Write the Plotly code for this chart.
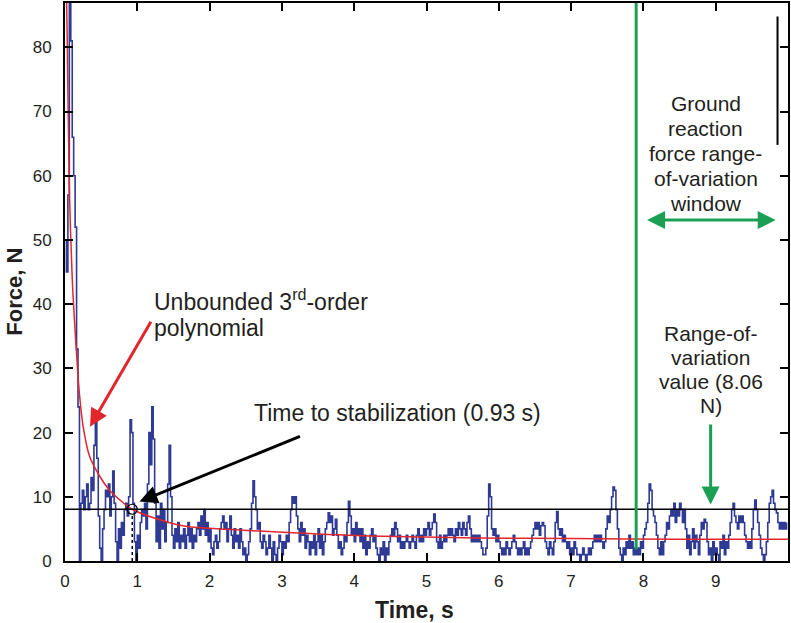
import numpy as np
import plotly.graph_objects as go

# ─── COLOURS ──────────────────────────────────────────────────
BLUE = "#2e3a94"
RED = "#e3262c"
GREEN = "#1a9f55"
INK = "#231f20"
FONT = "Liberation Sans, Arial, sans-serif"

# ─── DATA ─────────────────────────────────────────────────────
SAMPLE_DT = 0.02  # s between force samples

force = [
    50, 45, 57, 95, 81, 66, 60, 52, 33, 24, 0, 9, 11, 8, 10, 12, 8, 9, 13, 11, 18, 23, 16, 7, 2,
    0, 5, 8, 11, 10, 12, 7, 10, 14, 9, 3, 0, 5, 2, 6, 4, 8, 9, 7, 10, 22, 20, 9, 3, 0,
    4, 2, 6, 8, 7, 9, 5, 12, 20, 15, 24, 19, 9, 3, 7, 2, 9, 5, 8, 3, 6, 12, 18, 10, 4,
    2, 5, 3, 6, 2, 4, 3, 5, 2, 4, 6, 3, 5, 2, 4, 3, 5, 6, 4, 7, 5, 8, 4, 6, 3,
    5, 2, 1, 3, 4, 2, 3, 5, 6, 7, 5, 6, 3, 5, 7, 4, 2, 5, 3, 4, 2, 5, 3, 1, 2,
    0, 1, 3, 5, 9, 12.5, 10, 8, 5, 6, 3, 2, 4, 3, 1, 2, 4, 2, 0, 3, 1, 0, 2, 4, 3,
    1, 3, 2, 4, 3, 6, 8, 10, 9, 10, 7, 5, 3, 6, 4, 5, 2, 4, 3, 1, 3, 2, 4, 1, 3,
    5, 2, 4, 1, 3, 5, 6, 7.5, 6, 7, 4, 5, 6.5, 4, 2, 3, 1, 2, 4, 3, 6, 9.3, 7, 4, 5,
    3, 6, 4, 5, 3, 5, 2, 4, 1, 3, 2, 4, 5, 3, 4, 2, 1, 0, 2, 1, 3, 0, 2, 1, 3,
    4, 5, 4, 6, 5, 3, 4, 2, 3, 2, 3, 4, 3, 2, 3, 4, 3, 2, 4, 5, 3, 4, 3, 5, 4,
    5, 6, 4, 5, 6, 7.3, 6, 3, 2, 4, 2, 3, 4, 3, 4, 5, 4, 5, 4, 3, 5, 4, 6, 5, 4,
    6, 5, 4, 6, 7, 5, 3, 4, 3, 4, 3, 4, 3, 2, 1, 1, 2, 7, 12, 10, 5, 4, 5, 3, 4,
    3, 2, 1, 2, 1, 3, 2, 1, 2, 3, 4, 3, 2, 1, 2, 1, 2, 3, 1, 2, 1, 2, 3, 4, 5,
    6, 5, 6, 4, 5.5, 6, 5.5, 3, 2, 1, 3, 2, 1, 3, 6, 7.7, 5, 4, 5, 3, 4, 3, 2, 3, 1,
    2, 1, 3, 2, 1, 1, 0, 1, 2, 1, 0, 1, 2, 1, 2, 3, 4, 3, 4, 3, 4, 3, 2, 3, 5,
    7, 6, 8, 10, 11.5, 11, 8, 5, 2, 1, 0, 2, 1, 3, 2, 4, 2, 3, 1, 2, 1, 2, 1, 3, 2,
    4, 5, 6, 9, 12, 11, 8, 7, 6, 4, 2, 1, 3, 1, 3, 4, 6, 5, 7, 8, 7, 9, 6, 8, 7,
    9, 8, 6, 8, 5, 2, 4, 1, 3, 5, 2, 4, 3, 1, 4, 6, 5, 6.5, 6, 3, 1, 2, 0, 3, 1,
    2, 1, 0, 3, 2, 4, 1, 3, 2, 4, 6, 8, 9, 7, 6, 5, 7, 6, 7, 6, 4, 3, 2, 3, 2,
    5, 8, 9.5, 8, 6, 4, 2, 1, 0, 1, 3, 6, 9, 10, 11, 9, 8, 7.5, 6, 5, 6, 5, 6, 5, 6,
]

# polynomial fit
fit_t = [0.0, 0.03, 0.06, 0.1, 0.15, 0.2, 0.25, 0.34, 0.48, 0.61, 0.75, 0.93,
         1.3, 1.67, 2.3, 3.15, 4.2, 5.7, 7.0, 8.5, 10.0]
fit_f = [100, 82, 58, 44, 34, 26, 21, 16.3, 13.2, 11.1, 9.6, 8.06,
         6.45, 5.4, 4.9, 4.4, 3.9, 3.6, 3.5, 3.4, 3.4]

STAB_TIME = 0.93       # s
RANGE_VALUE = 8.06     # N
WINDOW_START = 7.9     # s
X_RANGE = [0, 10.0]
Y_RANGE = [0, 86.9]

time = np.arange(len(force)) * SAMPLE_DT

# ─── FIGURE ───────────────────────────────────────────────────
fig = go.Figure()

fig.add_trace(go.Scatter(
    x=time, y=force, mode="lines", line_shape="hv",
    line=dict(color=BLUE, width=1.6), showlegend=False,
))
fig.add_trace(go.Scatter(
    x=fit_t, y=fit_f, mode="lines", line_shape="spline",
    line=dict(color=RED, width=1.5, smoothing=0.8), showlegend=False,
))
fig.add_trace(go.Scatter(
    x=[STAB_TIME], y=[RANGE_VALUE], mode="markers",
    marker=dict(symbol="circle-open", size=10, color="black", line=dict(width=1.2)),
    showlegend=False,
))

# reference lines
fig.add_hline(y=RANGE_VALUE, line=dict(color="black", width=1.5))
fig.add_shape(type="line", x0=STAB_TIME, x1=STAB_TIME, y0=0, y1=RANGE_VALUE - 0.6,
              line=dict(color="black", width=1.5, dash="dot"))
fig.add_shape(type="line", x0=WINDOW_START, x1=WINDOW_START, y0=1.8, y1=Y_RANGE[1],
              line=dict(color=GREEN, width=3))
fig.add_shape(type="line", x0=9.855, x1=9.855, y0=64.8, y1=84.8,
              line=dict(color="black", width=2))

# ─── ANNOTATIONS ──────────────────────────────────────────────
def text_lines(lines, x, y0, step, anchor, size):
    for i, s in enumerate(lines):
        fig.add_annotation(x=x, y=y0 - i * step, text=s, showarrow=False,
                           xanchor=anchor, yanchor="middle",
                           font=dict(family=FONT, size=size, color=INK))

text_lines(["Unbounded 3<sup>rd</sup>-order", "polynomial"], 1.21, 40.6, 4.35, "left", 23)
text_lines(["Time to stabilization (0.93 s)"], 2.59, 23.1, 0, "left", 23)
text_lines(["Ground", "reaction", "force range-", "of-variation", "window"],
           8.86, 71.2, 3.9, "center", 21)
text_lines(["Range-of-", "variation", "value (8.06", "N)"], 8.93, 35.5, 3.75, "center", 21)

# red arrow to the polynomial
fig.add_annotation(x=0.345, y=20.9, ax=1.2, ay=37.5, axref="x", ayref="y",
                   showarrow=True, arrowhead=2, arrowsize=1.2, arrowwidth=3,
                   arrowcolor=RED, text="")
# black arrow to stabilization point
fig.add_annotation(x=1.03, y=9.25, ax=3.27, ay=19.5, axref="x", ayref="y",
                   showarrow=True, arrowhead=2, arrowsize=1.2, arrowwidth=3,
                   arrowcolor="black", text="")
# window double arrow
fig.add_annotation(x=9.83, y=53.1, ax=8.03, ay=53.1, axref="x", ayref="y",
                   showarrow=True, arrowhead=2, startarrowhead=2, arrowside="end+start",
                   arrowsize=1.2, startarrowsize=1.2, arrowwidth=3, arrowcolor=GREEN, text="")
# range value arrow
fig.add_annotation(x=8.93, y=8.8, ax=8.93, ay=21.5, axref="x", ayref="y",
                   showarrow=True, arrowhead=2, arrowsize=1.2, arrowwidth=3,
                   arrowcolor=GREEN, text="")

# axis titles
fig.add_annotation(xref="paper", yref="paper", x=-0.071, y=0.482, xanchor="center",
                   yanchor="middle", text="<b>Force, N</b>", textangle=-90,
                   showarrow=False, font=dict(family=FONT, size=22, color=INK))
fig.add_annotation(xref="paper", yref="paper", x=0.484, y=-0.087, xanchor="center",
                   yanchor="middle", text="<b>Time, s</b>", showarrow=False,
                   font=dict(family=FONT, size=23, color=INK))

axis_common = dict(
    showgrid=False, zeroline=False, showline=True, linecolor="black", linewidth=2,
    mirror="allticks", ticks="inside", ticklen=8, tickwidth=1.5, tickcolor="black",
    tickfont=dict(family=FONT, size=17, color=INK),
)

fig.update_layout(
    width=791, height=623,
    paper_bgcolor="white", plot_bgcolor="white",
    margin=dict(l=65, r=1, t=2, b=62),
    xaxis=dict(**axis_common, range=X_RANGE, tickvals=list(range(0, 10)),
               ticklabelstandoff=4),
    yaxis=dict(**axis_common, range=Y_RANGE, tickvals=list(range(0, 90, 10)),
               ticklabelstandoff=8),
    showlegend=False,
)

fig.write_html("out.html", config={"displayModeBar": False},
               post_script="document.body.style.margin='0px';")
